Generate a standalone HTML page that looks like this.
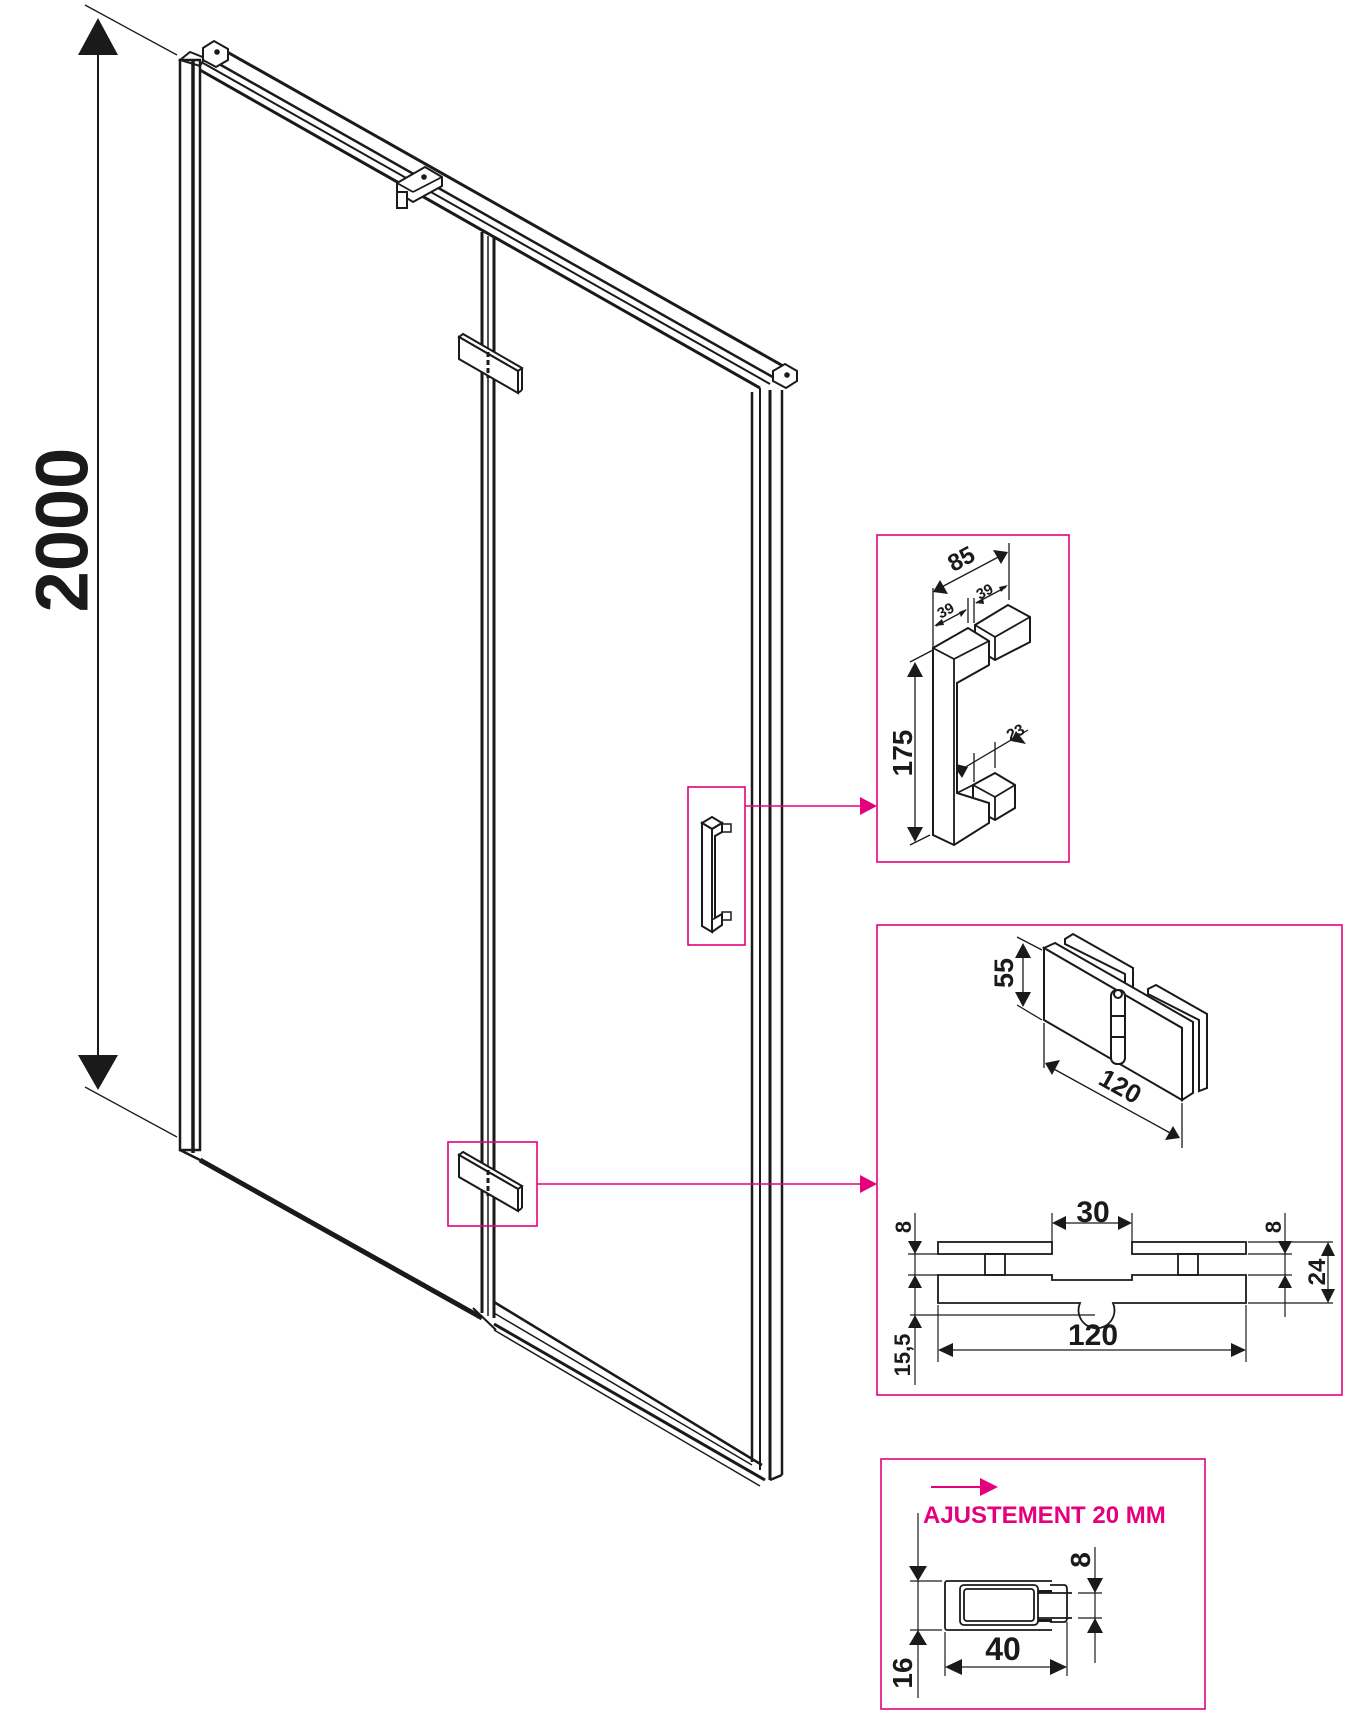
<!DOCTYPE html>
<html><head><meta charset="utf-8"><style>
html,body{margin:0;padding:0;background:#fff;}
svg{display:block;}
text{font-family:"Liberation Sans",sans-serif;font-weight:bold;fill:#1a1a1a;}
</style></head><body>
<svg width="1346" height="1714" viewBox="0 0 1346 1714" xmlns="http://www.w3.org/2000/svg">
<g stroke="#1a1a1a" fill="none" stroke-width="2">
<!-- 2000 dimension -->
<line x1="85" y1="5" x2="177" y2="55" stroke-width="1.3"/>
<line x1="85" y1="1087" x2="177" y2="1137" stroke-width="1.3"/>
<line x1="98" y1="40" x2="98" y2="1070" stroke-width="2"/>
<polygon points="98,18 78,55 118,55" fill="#1a1a1a" stroke="none"/>
<polygon points="98,1090 78,1055 118,1055" fill="#1a1a1a" stroke="none"/>

<!-- left profile -->
<rect x="180" y="60" width="20" height="1090" stroke-width="2.5"/>
<line x1="193" y1="60" x2="193" y2="1153" stroke-width="3.5"/>
<polygon points="180,60 190,52 205,58 200,66" stroke-width="2"/>
<line x1="180" y1="1150" x2="200" y2="1160" stroke-width="2.5"/>

<!-- top rail -->
<line x1="213" y1="44" x2="792" y2="371" stroke-width="3"/>
<line x1="205" y1="56" x2="778" y2="380" stroke-width="2.5"/>
<line x1="203" y1="63" x2="770" y2="384" stroke-width="2"/>
<line x1="200" y1="70" x2="760" y2="388" stroke-width="3"/>
<polygon points="203,48 214,41 228,49 228,60 216,67 203,60" fill="#fff" stroke-width="2"/>
<circle cx="217" cy="52" r="1.8" fill="#1a1a1a"/>
<polygon points="773,371 785,364 797,371 797,381 786,388 773,381" fill="#fff" stroke-width="2"/>
<circle cx="787" cy="375" r="1.8" fill="#1a1a1a"/>
<!-- clamp -->
<polygon points="397,183 425,167 442,177 442,186 413,202 397,192" fill="#fff" stroke-width="2"/>
<line x1="397" y1="183" x2="413" y2="192" stroke-width="1.8"/>
<line x1="413" y1="192" x2="442" y2="177" stroke-width="1.8"/>
<rect x="397" y="192" width="10" height="16" fill="#fff" stroke-width="2"/>
<circle cx="424" cy="177" r="1.8" fill="#1a1a1a"/>

<!-- middle profile -->
<line x1="482" y1="232" x2="482" y2="1313" stroke-width="3"/>
<line x1="488" y1="236" x2="488" y2="1316" stroke-width="1.5"/>
<line x1="494" y1="238" x2="494" y2="1318" stroke-width="3"/>

<!-- left glass bottom -->
<line x1="200" y1="1160" x2="482" y2="1318" stroke-width="5"/>
<line x1="473" y1="1308" x2="496" y2="1330" stroke-width="2"/>

<!-- right panel bottom -->
<line x1="494" y1="1302" x2="762" y2="1465" stroke-width="2.5"/>
<line x1="494" y1="1313" x2="752" y2="1465" stroke-width="1.5"/>
<line x1="494" y1="1324" x2="765" y2="1480" stroke-width="3"/>
<line x1="494" y1="1330" x2="760" y2="1486" stroke-width="1.5"/>

<!-- right profile -->
<line x1="752" y1="392" x2="752" y2="1462" stroke-width="2.5"/>
<line x1="760" y1="388" x2="760" y2="1470" stroke-width="2"/>
<line x1="770" y1="390" x2="770" y2="1480" stroke-width="3"/>
<line x1="782" y1="390" x2="782" y2="1475" stroke-width="2.5"/>
<line x1="770" y1="1480" x2="782" y2="1475" stroke-width="2.5"/>

<!-- upper hinge -->
<polygon points="459,337 463,334 522,368 518,371" fill="#fff" stroke-width="2"/>
<polygon points="459,337 518,371 518,393 459,359" fill="#fff" stroke-width="2"/>
<line x1="522" y1="368" x2="522" y2="390" stroke-width="2"/>
<line x1="518" y1="393" x2="522" y2="390" stroke-width="2"/>
<line x1="488" y1="352" x2="488" y2="378" stroke-width="3" stroke-dasharray="5,3"/>
<!-- lower hinge -->
<polygon points="459,1155 463,1152 522,1186 518,1189" fill="#fff" stroke-width="2"/>
<polygon points="459,1155 518,1189 518,1211 459,1177" fill="#fff" stroke-width="2"/>
<line x1="522" y1="1186" x2="522" y2="1208" stroke-width="2"/>
<line x1="518" y1="1211" x2="522" y2="1208" stroke-width="2"/>
<line x1="488" y1="1170" x2="488" y2="1196" stroke-width="3" stroke-dasharray="5,3"/>

<!-- handle -->
<polygon points="702,823 712,817 722,823 712,829" fill="#fff" stroke-width="2"/>
<polygon points="702,823 712,829 712,932 702,926" fill="#fff" stroke-width="2"/>
<polyline points="712,829 722,823 722,832 715,836 715,918 722,914 722,925 712,932" stroke-width="2"/>
<line x1="715" y1="918" x2="712" y2="920" stroke-width="1.5"/>
<rect x="722" y="824" width="9" height="8" stroke-width="1.5"/>
<rect x="722" y="912" width="9" height="8" stroke-width="1.5"/>
</g>

<g stroke="#e5007d" fill="none" stroke-width="1.6">
<rect x="688" y="787" width="57" height="158"/>
<rect x="448" y="1142" width="89" height="84"/>
<line x1="745" y1="806" x2="862" y2="806"/>
<line x1="537" y1="1184" x2="862" y2="1184"/>
<rect x="877" y="535" width="192" height="327"/>
<rect x="877" y="925" width="465" height="470"/>
<rect x="881" y="1459" width="324" height="250"/>
<line x1="931" y1="1487" x2="982" y2="1487" stroke-width="2"/>
</g>
<g fill="#e5007d">
<polygon points="860,797 877,806 860,815"/>
<polygon points="860,1175 877,1184 860,1193"/>
<polygon points="980,1478 998,1487 980,1496"/>
</g>
<text x="62" y="530" font-size="74" text-anchor="middle" dominant-baseline="central" transform="rotate(-90 62 530)">2000</text>

<!-- HANDLE DETAIL -->
<g stroke="#1a1a1a" fill="none" stroke-width="1.3">
<line x1="933" y1="588" x2="933" y2="648"/>
<line x1="1009" y1="543" x2="1009" y2="600"/>
<line x1="968" y1="598" x2="968" y2="623"/>
<line x1="974" y1="598" x2="974" y2="623"/>
<line x1="936" y1="590" x2="1006" y2="553"/>
<line x1="936" y1="626" x2="966" y2="610"/>
<line x1="976" y1="603" x2="1006" y2="587"/>
<line x1="910" y1="662" x2="933" y2="650"/>
<line x1="910" y1="845" x2="930" y2="835"/>
<line x1="915" y1="668" x2="915" y2="838"/>
<line x1="952" y1="775" x2="1028" y2="730"/>
<line x1="974" y1="753" x2="974" y2="782"/>
<line x1="995" y1="742" x2="995" y2="768"/>
</g>
<g fill="#1a1a1a">
<polygon points="933,592 940,580 948,594"/>
<polygon points="1008,552 993,550 1001,564"/>
<polygon points="934,626 942,619 944,625"/>
<polygon points="967,609 959,612 961,617"/>
<polygon points="975,603 983,598 984,604"/>
<polygon points="1008,585 999,587 1001,592"/>
<polygon points="915,662 907,677 923,677"/>
<polygon points="915,842 907,827 923,827"/>
<polygon points="968,767 952,763 962,778"/>
<polygon points="1011,741 1026,744 1016,731"/>
</g>
<g stroke="#1a1a1a" fill="#fff" stroke-width="2">
<polygon points="975,625 1008,605 1030,617 1030,642 995,660 975,648"/>
<polygon points="973,785 995,773 1015,785 1015,808 995,820 973,808"/>
<polygon points="933,648 968,628 989,641 989,665 957,683 957,793 989,803 989,823 954,845 933,835"/>
</g>
<g stroke="#1a1a1a" fill="none" stroke-width="1.8">
<polyline points="933,648 954,659 989,641"/>
<line x1="954" y1="659" x2="954" y2="845"/>
<polyline points="975,625 995,637 1030,617"/>
<line x1="995" y1="637" x2="995" y2="660"/>
<polyline points="973,785 995,797 1015,785"/>
<line x1="995" y1="797" x2="995" y2="820"/>
<line x1="957" y1="793" x2="973" y2="785"/>
</g>
<text font-size="24" transform="translate(965,566) rotate(-28)" text-anchor="middle">85</text>
<text font-size="15" transform="translate(948,615) rotate(-28)" text-anchor="middle">39</text>
<text font-size="15" transform="translate(987,596) rotate(-28)" text-anchor="middle">39</text>
<text font-size="16" transform="translate(1018,737) rotate(-28)" text-anchor="middle">23</text>
<text font-size="28" transform="translate(912,753) rotate(-90)" text-anchor="middle">175</text>

<!-- HINGE DETAIL -->
<g stroke="#1a1a1a" fill="none" stroke-width="1.3">
<line x1="1017" y1="937" x2="1042" y2="950"/>
<line x1="1017" y1="1005" x2="1042" y2="1020"/>
<line x1="1023" y1="950" x2="1023" y2="1000"/>
<line x1="1044" y1="1023" x2="1044" y2="1068"/>
<line x1="1182" y1="1103" x2="1182" y2="1148"/>
<line x1="1052" y1="1068" x2="1172" y2="1134"/>
</g>
<g fill="#1a1a1a">
<polygon points="1023,943 1015,958 1031,958"/>
<polygon points="1023,1007 1015,992 1031,992"/>
<polygon points="1045,1063 1060,1060 1052,1075"/>
<polygon points="1180,1138 1165,1140 1173,1126"/>
</g>
<g stroke="#1a1a1a" fill="#fff" stroke-width="2">
<polygon points="1065,939 1073,934 1133,968 1133,997 1125,997 1125,974 1065,944"/>
<polygon points="1148,989 1156,985 1207,1014 1207,1088 1199,1091 1199,1020 1148,994"/>
<polygon points="1044,948 1055,943 1125,983 1193,1022 1193,1093 1182,1100 1182,1028 1044,948"/>
<polygon points="1044,948 1182,1028 1182,1100 1044,1020"/>
<rect x="1111" y="990" width="14" height="74" rx="6"/>
<circle cx="1118" cy="994" r="4"/>
<line x1="1111" y1="1016" x2="1125" y2="1016"/>
<line x1="1111" y1="1037" x2="1125" y2="1037"/>
</g>
<text font-size="27" transform="translate(1013,973) rotate(-90)" text-anchor="middle">55</text>
<text font-size="26" transform="translate(1116,1094) rotate(29)" text-anchor="middle">120</text>

<g stroke="#1a1a1a" fill="none" stroke-width="1.8">
<rect x="938" y="1242" width="114" height="12"/>
<rect x="1132" y="1242" width="114" height="12"/>
<rect x="985" y="1254" width="20" height="21"/>
<rect x="1178" y="1254" width="20" height="21"/>
<path d="M938,1275 H1052 V1280 H1132 V1275 H1246 V1303 H1113 A18,18 0 1 1 1080,1303 H938 Z"/>
</g>
<g stroke="#1a1a1a" fill="none" stroke-width="1.2">
<line x1="908" y1="1254" x2="938" y2="1254"/>
<line x1="908" y1="1275" x2="938" y2="1275"/>
<line x1="910" y1="1315" x2="1095" y2="1315"/>
<line x1="1248" y1="1242" x2="1333" y2="1242"/>
<line x1="1248" y1="1254" x2="1292" y2="1254"/>
<line x1="1248" y1="1275" x2="1292" y2="1275"/>
<line x1="1248" y1="1303" x2="1333" y2="1303"/>
<line x1="915" y1="1213" x2="915" y2="1385"/>
<line x1="1285" y1="1213" x2="1285" y2="1317"/>
<line x1="1328" y1="1250" x2="1328" y2="1296"/>
<line x1="1052" y1="1213" x2="1052" y2="1242"/>
<line x1="1132" y1="1213" x2="1132" y2="1242"/>
<line x1="1060" y1="1223" x2="1124" y2="1223"/>
<line x1="938" y1="1305" x2="938" y2="1362"/>
<line x1="1246" y1="1305" x2="1246" y2="1362"/>
<line x1="946" y1="1350" x2="1238" y2="1350"/>
</g>
<g fill="#1a1a1a">
<polygon points="915,1254 908,1241 922,1241"/>
<polygon points="915,1275 908,1288 922,1288"/>
<polygon points="915,1315 908,1328 922,1328"/>
<polygon points="1285,1254 1278,1241 1292,1241"/>
<polygon points="1285,1275 1278,1288 1292,1288"/>
<polygon points="1328,1242 1321,1256 1335,1256"/>
<polygon points="1328,1303 1321,1289 1335,1289"/>
<polygon points="1052,1223 1066,1216 1066,1230"/>
<polygon points="1132,1223 1118,1216 1118,1230"/>
<polygon points="938,1350 953,1343 953,1357"/>
<polygon points="1246,1350 1231,1343 1231,1357"/>
</g>
<text font-size="30" x="1093" y="1222" text-anchor="middle">30</text>
<text font-size="30" x="1093" y="1345" text-anchor="middle">120</text>
<text font-size="22" transform="translate(911,1227) rotate(-90)" text-anchor="middle">8</text>
<text font-size="22" transform="translate(1281,1227) rotate(-90)" text-anchor="middle">8</text>
<text font-size="24" transform="translate(1325,1272) rotate(-90)" text-anchor="middle">24</text>
<text font-size="22" transform="translate(910,1355) rotate(-90)" text-anchor="middle">15,5</text>

<!-- ADJUSTMENT DETAIL -->
<text x="923" y="1523" font-size="24" style="fill:#e5007d">AJUSTEMENT 20 MM</text>
<g stroke="#1a1a1a" fill="none" stroke-width="1.8">
<path d="M1052,1581 H947 Q945,1581 945,1584 V1627 Q945,1630 947,1630 H1052"/>
<rect x="960" y="1585" width="78" height="40" rx="4"/>
<rect x="964" y="1589" width="70" height="32" rx="3"/>
<path d="M1050,1585 H1064 Q1067,1585 1067,1589 V1618 Q1067,1622 1064,1622 H1050"/>
<line x1="1038" y1="1593" x2="1072" y2="1593"/>
<line x1="1038" y1="1618" x2="1072" y2="1618"/>
</g>
<g fill="#1a1a1a">
<rect x="1038" y="1590" width="14" height="3"/>
<rect x="1038" y="1619" width="14" height="3"/>
</g>
<g stroke="#1a1a1a" fill="none" stroke-width="1.2">
<line x1="910" y1="1581" x2="942" y2="1581"/>
<line x1="910" y1="1630" x2="942" y2="1630"/>
<line x1="918" y1="1513" x2="918" y2="1698"/>
<line x1="945" y1="1632" x2="945" y2="1676"/>
<line x1="1067" y1="1622" x2="1067" y2="1676"/>
<line x1="950" y1="1667" x2="1062" y2="1667"/>
<line x1="1078" y1="1593" x2="1102" y2="1593"/>
<line x1="1078" y1="1618" x2="1102" y2="1618"/>
<line x1="1095" y1="1547" x2="1095" y2="1663"/>
</g>
<g fill="#1a1a1a">
<polygon points="918,1581 909,1566 927,1566"/>
<polygon points="918,1630 909,1645 927,1645"/>
<polygon points="945,1667 962,1659 962,1675"/>
<polygon points="1067,1667 1050,1659 1050,1675"/>
<polygon points="1095,1593 1087,1578 1103,1578"/>
<polygon points="1095,1618 1087,1633 1103,1633"/>
</g>
<text font-size="32" x="1003" y="1660" text-anchor="middle">40</text>
<text font-size="28" transform="translate(912,1673) rotate(-90)" text-anchor="middle">16</text>
<text font-size="28" transform="translate(1090,1560) rotate(-90)" text-anchor="middle">8</text>
</svg>
</body></html>
